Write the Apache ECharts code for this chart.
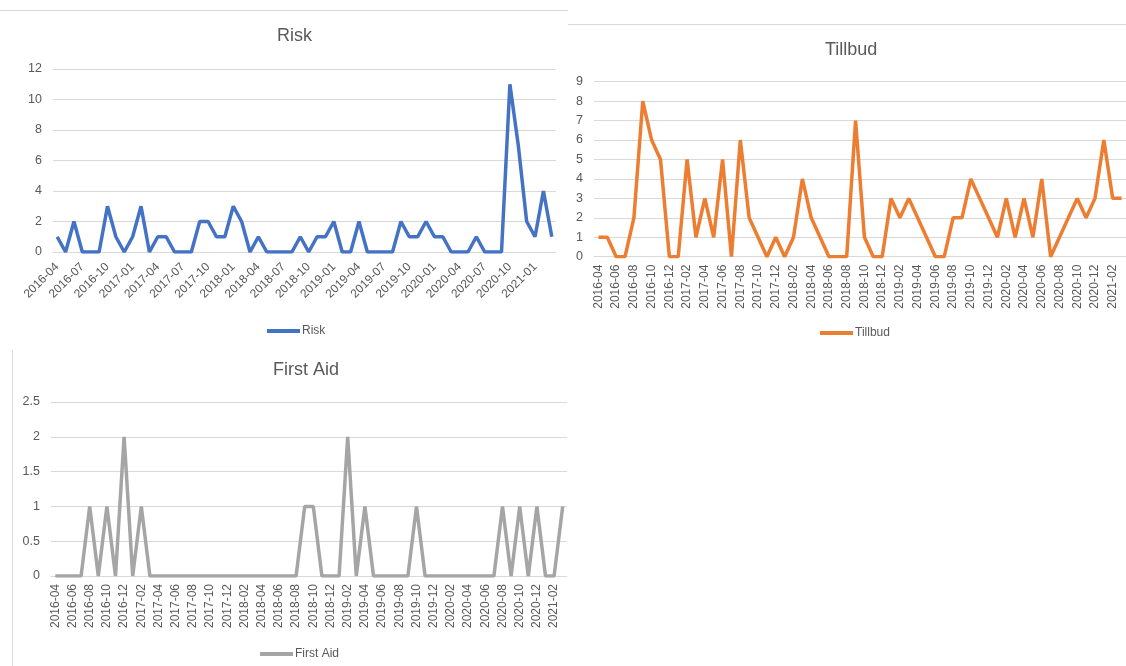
<!DOCTYPE html>
<html><head><meta charset="utf-8">
<script src="https://cdn.jsdelivr.net/npm/echarts@6/dist/echarts.min.js"></script>
<style>html,body{margin:0;padding:0;background:#fff}#c{width:1126px;height:666px}</style>
</head><body><div id="c"></div>
<script>
const months = [
 '2016-04','2016-05','2016-06','2016-07','2016-08','2016-09','2016-10','2016-11','2016-12',
 '2017-01','2017-02','2017-03','2017-04','2017-05','2017-06','2017-07','2017-08','2017-09','2017-10','2017-11','2017-12',
 '2018-01','2018-02','2018-03','2018-04','2018-05','2018-06','2018-07','2018-08','2018-09','2018-10','2018-11','2018-12',
 '2019-01','2019-02','2019-03','2019-04','2019-05','2019-06','2019-07','2019-08','2019-09','2019-10','2019-11','2019-12',
 '2020-01','2020-02','2020-03','2020-04','2020-05','2020-06','2020-07','2020-08','2020-09','2020-10','2020-11','2020-12',
 '2021-01','2021-02','2021-03'
];
const risk = [1,0,2,0,0,0,3,1,0,1, 3,0,1,1,0,0,0,2,2,1, 1,3,2,0,1,0,0,0,0,1, 0,1,1,2,0,0,2,0,0,0, 0,2,1,1,2,1,1,0,0,0, 1,0,0,0,11,7,2,1,4,1];
const tillbud = [1,1,0,0,2,8,6,5,0,0, 5,1,3,1,5,0,6,2,1,0, 1,0,1,4,2,1,0,0,0,7, 1,0,0,3,2,3,2,1,0,0, 2,2,4,3,2,1,3,1,3,1, 4,0,1,2,3,2,3,6,3,3];
const firstAid = [0,0,0,0,1,0,1,0,2,0, 1,0,0,0,0,0,0,0,0,0, 0,0,0,0,0,0,0,0,0,1, 1,0,0,0,2,0,1,0,0,0, 0,0,1,0,0,0,0,0,0,0, 0,0,1,0,1,0,1,0,0,1];
const riskTicks = {max: 12, interval: 2};
const tillbudTicks = {max: 9, interval: 1};
const firstAidTicks = {max: 2.5, interval: 0.5};

const FONT = '"Liberation Sans", "DejaVu Sans", sans-serif';
const TXT = '#595959', GRID = '#D9D9D9';
const colors = ['#4472C4', '#ED7D31', '#A5A5A5'];

function xAxis(i, rotate, interval, margin) {
  return {
    type: 'category', gridIndex: i, data: months, boundaryGap: true,
    axisTick: {show: false},
    axisLine: {lineStyle: {color: GRID, width: 1}},
    axisLabel: {rotate: rotate, interval: interval, color: TXT, fontSize: 12, fontFamily: FONT, margin: margin}
  };
}
function yAxis(i, t) {
  return {
    type: 'value', gridIndex: i, min: 0, max: t.max, interval: t.interval,
    axisLine: {show: false}, axisTick: {show: false},
    splitLine: {lineStyle: {color: GRID, width: 1}},
    axisLabel: {color: TXT, fontSize: 12.5, fontFamily: FONT, margin: 11}
  };
}
function legend(name, left, top) {
  return {
    data: [name], left: left, top: top, padding: 0, icon: 'rect', itemWidth: 33, itemHeight: 4, itemGap: 0,
    textStyle: {color: TXT, fontSize: 12, fontFamily: FONT, padding: [0, 0, 0, -3]}
  };
}
function title(text, left, top) {
  return {text: text, left: left, top: top, padding: 0,
    textStyle: {color: TXT, fontSize: 18, fontWeight: 'normal', fontFamily: FONT}};
}
function series(name, data, i) {
  return {name: name, type: 'line', xAxisIndex: i, yAxisIndex: i, data: data,
    symbol: 'none', lineStyle: {width: 3.5, color: colors[i]}, itemStyle: {color: colors[i]}, animation: false};
}

const chart = echarts.init(document.getElementById('c'), null, {renderer: 'canvas'});
chart.setOption({
  animation: false,
  color: colors,
  title: [title('Risk', 277, 27), title('Tillbud', 825, 41), title('First Aid', 273, 361)],
  legend: [legend('Risk', 267, 325), legend('Tillbud', 820, 327), legend('First Aid', 260, 648)],
  grid: [
    {left: 53, top: 69, width: 503, height: 183},
    {left: 594, top: 81.7, width: 532, height: 175},
    {left: 51, top: 402, width: 516, height: 174}
  ],
  xAxis: [xAxis(0, 45, 2, 13), xAxis(1, 90, 1, 8), xAxis(2, 90, 1, 8)],
  yAxis: [yAxis(0, riskTicks), yAxis(1, tillbudTicks), yAxis(2, firstAidTicks)],
  series: [series('Risk', risk, 0), series('Tillbud', tillbud, 1), series('First Aid', firstAid, 2)],
  graphic: [
    {type: 'line', shape: {x1: 0, y1: 10.5, x2: 568, y2: 10.5}, style: {stroke: GRID, lineWidth: 1}},
    {type: 'line', shape: {x1: 568, y1: 24.5, x2: 1126, y2: 24.5}, style: {stroke: GRID, lineWidth: 1}},
    {type: 'line', shape: {x1: 12.5, y1: 350, x2: 12.5, y2: 666}, style: {stroke: GRID, lineWidth: 1}}
  ]
});
</script>
</body></html>
